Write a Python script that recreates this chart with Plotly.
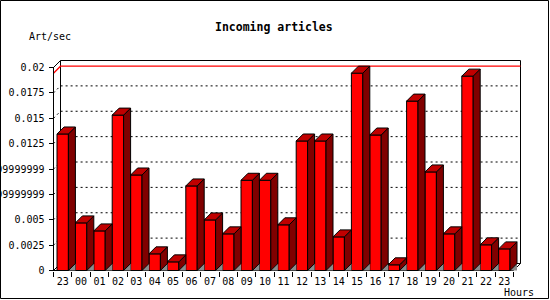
import plotly.graph_objects as go

# ---------------- data ----------------
HOURS = ["23", "00", "01", "02", "03", "04", "05", "06", "07", "08", "09", "10",
         "11", "12", "13", "14", "15", "16", "17", "18", "19", "20", "21", "22", "23"]
RATE = [0.01345, 0.00469, 0.00390, 0.01531, 0.00941, 0.00164, 0.00085, 0.00833,
        0.00498, 0.00361, 0.00889, 0.00889, 0.00450, 0.01276, 0.01276, 0.00331,
        0.01944, 0.01335, 0.00056, 0.01669, 0.00971, 0.00361, 0.01915, 0.00253,
        0.00213]
Y_TICKS = [0, 0.0025, 0.005, 0.0075, 0.01, 0.0125, 0.015, 0.0175, 0.02]
Y_TICK_TEXT = ["0", "0.0025", "0.005", "0.0074999999999", "0.0099999999999",
               "0.0125", "0.015", "0.0175", "0.02"]
TITLE = "Incoming articles"
Y_TITLE = "Art/sec"
X_TITLE = "Hours"

# ---------------- geometry ----------------
W, H = 550, 300
FX0 = 53.5          # px of the front y axis
UNIT = 18.4         # px per category
ZY = 270.5          # px of y = 0
YMAX_TICK = Y_TICKS[-1]
YPX = 203.0 / YMAX_TICK   # px per unit value
D = 7.0             # 3D depth in px
dx = D / UNIT
dy = D / YPX
BW = 0.62           # bar width (category units)

DOM_L, DOM_R, DOM_T, DOM_B = 46, 527, 54, 277
xrange = [-0.5 + (DOM_L - FX0) / UNIT, -0.5 + (DOM_R - FX0) / UNIT]
yrange = [(ZY - DOM_B) / YPX, (ZY - DOM_T) / YPX]

n = len(RATE)
xs = list(range(n))
x_left = -0.5
x_right = n - 0.5

FONT = "DejaVu Sans Mono"

fig = go.Figure()

# shadows on floor
sx, sy = [], []
for i, v in enumerate(RATE):
    xr = i + BW / 2
    sx += [xr, xr + dx, xr + dx, xr, None]
    sy += [0, dy, 0, 0, None]
fig.add_trace(go.Scatter(x=sx, y=sy, mode="lines", fill="toself",
                         fillcolor="#8c8c8c", line=dict(width=0, color="#8c8c8c"),
                         hoverinfo="skip", showlegend=False))

# front faces
fig.add_trace(go.Bar(x=xs, y=RATE, width=BW,
                     marker=dict(color="#ff0000", line=dict(color="black", width=1)),
                     hoverinfo="skip", showlegend=False))

# side faces
px_, py_ = [], []
for i, v in enumerate(RATE):
    xr = i + BW / 2
    px_ += [xr, xr, xr + dx, xr + dx, xr, None]
    py_ += [0, v, v + dy, dy, 0, None]
fig.add_trace(go.Scatter(x=px_, y=py_, mode="lines", fill="toself",
                         fillcolor="#800000", line=dict(width=1, color="black"),
                         hoverinfo="skip", showlegend=False))

# top faces
tx, ty = [], []
for i, v in enumerate(RATE):
    xl = i - BW / 2
    xr = i + BW / 2
    tx += [xl, xl + dx, xr + dx, xr, xl, None]
    ty += [v, v + dy, v + dy, v, v, None]
fig.add_trace(go.Scatter(x=tx, y=ty, mode="lines", fill="toself",
                         fillcolor="#c00000", line=dict(width=1, color="black"),
                         hoverinfo="skip", showlegend=False))

shapes = []
# back plane
shapes.append(dict(type="rect", xref="x", yref="y", x0=x_left + dx, x1=x_right + dx,
                   y0=dy, y1=YMAX_TICK + dy, line=dict(color="black", width=1),
                   fillcolor="white", layer="below"))
# grid lines (dotted) on back plane with diagonal stub
for v in Y_TICKS[1:-1]:
    shapes.append(dict(type="path", xref="x", yref="y",
                       path=f"M {x_left},{v} L {x_left + dx},{v + dy} L {x_right + dx},{v + dy}",
                       line=dict(color="black", width=1, dash="2px,3px"), layer="below"))
# max line in red
vmax = max(RATE)
shapes.append(dict(type="path", xref="x", yref="y",
                   path=f"M {x_left},{vmax} L {x_left + dx},{vmax + dy} L {x_right + dx},{vmax + dy}",
                   line=dict(color="#ff0000", width=1.3), layer="below"))
# floor and front axis
shapes.append(dict(type="path", xref="x", yref="y",
                   path=(f"M {x_left + dx},{YMAX_TICK + dy} L {x_left},{YMAX_TICK} L {x_left},0 "
                         f"L {x_right},0 L {x_right + dx},{dy}"),
                   line=dict(color="black", width=1), layer="below"))
shapes.append(dict(type="line", xref="x", yref="y", x0=x_left, y0=0, x1=x_left + dx, y1=dy,
                   line=dict(color="black", width=1), layer="below"))
# image border
shapes.append(dict(type="rect", xref="paper", yref="paper",
                   x0=0.5 / W, x1=548.5 / W, y0=1.5 / H, y1=299.5 / H,
                   line=dict(color="black", width=1), layer="above"))

annotations = [
    dict(text=f"<b>{TITLE}</b>", x=274 / W, y=1 - 26.7 / H, xref="paper", yref="paper",
         xanchor="center", yanchor="middle", showarrow=False,
         font=dict(family=FONT, size=11.5, color="black")),
    dict(text=Y_TITLE, x=50 / W, y=1 - 36.7 / H, xref="paper", yref="paper",
         xanchor="center", yanchor="middle", showarrow=False,
         font=dict(family=FONT, size=10, color="black")),
    dict(text=X_TITLE, x=519 / W, y=1 - 292 / H, xref="paper", yref="paper",
         xanchor="center", yanchor="middle", showarrow=False,
         font=dict(family=FONT, size=10, color="black")),
]

fig.update_layout(
    template="none",
    width=W, height=H,
    margin=dict(l=0, r=0, t=0, b=0),
    paper_bgcolor="white", plot_bgcolor="rgba(0,0,0,0)",
    showlegend=False,
    shapes=shapes,
    annotations=annotations,
    xaxis=dict(domain=[DOM_L / W, DOM_R / W], range=xrange, anchor="free",
               position=(H - ZY) / H, showgrid=False, zeroline=False, showline=False,
               tickmode="array", tickvals=xs, ticktext=HOURS,
               ticks="outside", ticklen=1, tickcolor="rgba(0,0,0,0)",
               tickfont=dict(family=FONT, size=10, color="black"),
               minor=dict(tickmode="linear", tick0=-0.5, dtick=1, ticks="outside",
                          ticklen=5, tickwidth=1, tickcolor="black", showgrid=False),
               automargin=False, fixedrange=True),
    yaxis=dict(domain=[(H - DOM_B) / H, (H - DOM_T) / H], range=yrange, anchor="free",
               position=FX0 / W, showgrid=False, zeroline=False, showline=False,
               tickmode="array", tickvals=Y_TICKS, ticktext=Y_TICK_TEXT,
               ticks="outside", ticklen=5, tickwidth=1, tickcolor="black",
               ticklabelstandoff=2,
               tickfont=dict(family=FONT, size=10, color="black"),
               automargin=False, fixedrange=True),
)

fig.write_html("out.html")
